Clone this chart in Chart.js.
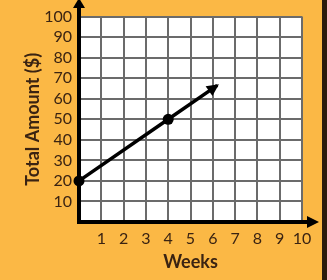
<!DOCTYPE html>
<html>
<head>
<meta charset="utf-8">
<script src="https://cdn.jsdelivr.net/npm/chart.js@4"></script>
<style>
    html, body { margin: 0; padding: 0; background: #fbb845; }
    #wrap { width: 327px; height: 280px; position: relative; }
    #edge { position: absolute; right: 0; top: 0; width: 5px; height: 280px; background: #2b1b0c; }
</style>
</head>
<body>
<div id="wrap"><canvas id="savingsChart" width="327" height="280"></canvas><div id="edge"></div></div>
<script>
// Data
var weeks = [0, 4, 6.2];          // last point is where the arrow ends
var totals = [20, 50, 66.5];
var markerRadius = [5.5, 5.5, 0];  // dots on the two known points only
var xTitle = "Weeks";
var yTitle = "Total Amount ($)";

var textColor = "#3a2312";

// White plot background, arrow heads on the axes and at the end of the line
var arrowPlugin = {
    id: "arrows",
    beforeDraw: function (chart) {
        var a = chart.chartArea, ctx = chart.ctx;
        ctx.save();
        ctx.fillStyle = "#ffffff";
        ctx.fillRect(a.left, a.top, a.right - a.left, a.bottom - a.top);
        ctx.restore();
    },
    afterDraw: function (chart) {
        var a = chart.chartArea, ctx = chart.ctx;
        ctx.save();
        ctx.strokeStyle = "#000";
        ctx.fillStyle = "#000";
        ctx.lineWidth = 4;
        // y axis continues to the top edge
        ctx.beginPath();
        ctx.moveTo(a.left, a.bottom);
        ctx.lineTo(a.left, 2);
        ctx.stroke();
        ctx.beginPath();
        ctx.moveTo(a.left, -2);
        ctx.lineTo(a.left - 6, 8);
        ctx.lineTo(a.left + 6, 8);
        ctx.closePath();
        ctx.fill();
        // x axis continues past the grid
        ctx.beginPath();
        ctx.moveTo(a.left, a.bottom);
        ctx.lineTo(a.right + 8, a.bottom);
        ctx.stroke();
        ctx.beginPath();
        ctx.moveTo(a.right + 17, a.bottom);
        ctx.lineTo(a.right + 5, a.bottom - 6);
        ctx.lineTo(a.right + 5, a.bottom + 6);
        ctx.closePath();
        ctx.fill();
        // arrow head at the end of the data line
        var pts = chart.getDatasetMeta(0).data;
        var p1 = pts[pts.length - 2], p2 = pts[pts.length - 1];
        var ang = Math.atan2(p2.y - p1.y, p2.x - p1.x);
        ctx.translate(p2.x, p2.y);
        ctx.rotate(ang);
        ctx.beginPath();
        ctx.moveTo(2, 0);
        ctx.lineTo(-10, -6);
        ctx.lineTo(-10, 6);
        ctx.closePath();
        ctx.fill();
        ctx.restore();
    }
};

var ctx = document.getElementById("savingsChart").getContext("2d");
window.savingsChart = new Chart(ctx, {
    type: "line",
    data: {
        datasets: [{
            data: weeks.map(function (w, i) { return { x: w, y: totals[i] }; }),
            borderColor: "#000",
            borderWidth: 3.5,
            pointRadius: markerRadius,
            pointBackgroundColor: "#000",
            pointBorderWidth: 0,
            clip: false,
            tension: 0
        }]
    },
    options: {
        responsive: false,
        animation: false,
        events: [],
        layout: { padding: { top: 15, right: 25, left: 0, bottom: 0 } },
        plugins: {
            legend: { display: false },
            tooltip: { enabled: false }
        },
        scales: {
            x: {
                type: "linear",
                min: 0,
                max: 10,
                ticks: {
                    stepSize: 1,
                    autoSkip: false,
                    maxRotation: 0,
                    minRotation: 0,
                    padding: 7,
                    color: textColor,
                    font: { family: "Lato", size: 16 },
                    callback: function (v) { return v === 0 ? "" : v; }
                },
                grid: { color: "#6b6b6b", lineWidth: 2, drawTicks: false },
                border: { color: "#000", width: 4 },
                title: {
                    display: true,
                    text: xTitle,
                    color: textColor,
                    font: { family: "Lato", size: 18, weight: "bold" },
                    padding: { top: 0, bottom: 7 }
                },
                afterFit: function (s) { s.height = 58; }
            },
            y: {
                min: 0,
                max: 100,
                ticks: {
                    stepSize: 10,
                    autoSkip: false,
                    padding: 7,
                    color: textColor,
                    font: { family: "Lato", size: 16 },
                    callback: function (v) { return v === 0 ? "" : v; }
                },
                grid: { color: "#6b6b6b", lineWidth: 2, drawTicks: false },
                border: { color: "#000", width: 4 },
                title: {
                    display: true,
                    text: yTitle,
                    color: textColor,
                    font: { family: "Lato", size: 18, weight: "bold" },
                    padding: { top: 22, bottom: 0 }
                },
                afterFit: function (s) { s.width = 79; }
            }
        }
    },
    plugins: [arrowPlugin]
});
</script>
</body>
</html>
